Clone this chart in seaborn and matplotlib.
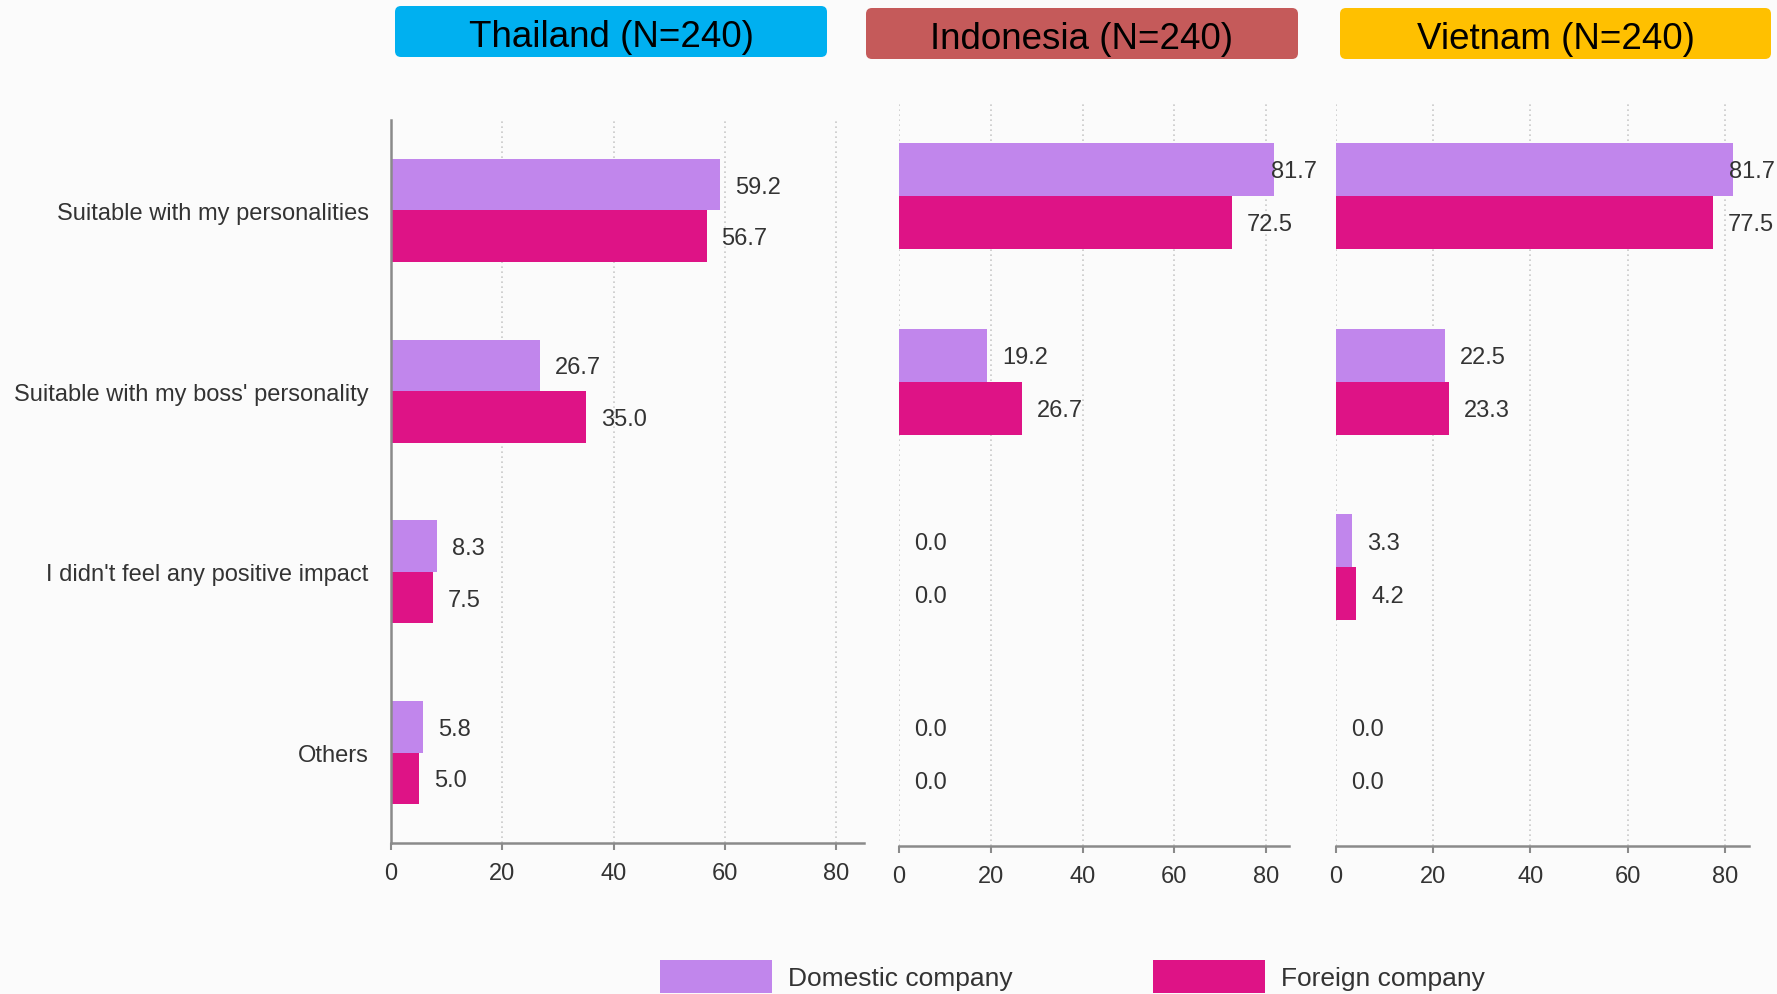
import matplotlib
matplotlib.use("Agg")
import matplotlib.pyplot as plt
from matplotlib.patches import FancyBboxPatch, Patch
import numpy as np
import pandas as pd
import seaborn as sns

# ---- data -------------------------------------------------------------
categories = [
    "Suitable with my personalities",
    "Suitable with my boss' personality",
    "I didn't feel any positive impact",
    "Others",
]
series_names = ["Domestic company", "Foreign company"]

thailand_domestic = [59.2, 26.7, 8.3, 5.8]
thailand_foreign = [56.7, 35.0, 7.5, 5.0]
indonesia_domestic = [81.7, 19.2, 0.0, 0.0]
indonesia_foreign = [72.5, 26.7, 0.0, 0.0]
vietnam_domestic = [81.7, 22.5, 3.3, 0.0]
vietnam_foreign = [77.5, 23.3, 4.2, 0.0]

panel_titles = ["Thailand (N=240)", "Indonesia (N=240)", "Vietnam (N=240)"]
x_ticks = [0, 20, 40, 60, 80]

# ---- style ------------------------------------------------------------
domestic_color = "#C186EC"
foreign_color = "#DE1386"
title_colors = ["#00B0F0", "#C55A5A", "#FFC000"]
text_color = "#333333"
axis_color = "#8a8a8a"
bg_color = "#fbfbfb"

sns.set_theme(style="white")
plt.rcParams["font.family"] = ["Liberation Sans", "DejaVu Sans"]

W, H = 1777, 995
fig = plt.figure(figsize=(W / 100, H / 100), dpi=100, facecolor=bg_color)


def frac_box(left, top, right, bottom):
    """Pixel box (from top-left) -> figure-fraction [l, b, w, h]."""
    return [left / W, 1 - bottom / H, (right - left) / W, (bottom - top) / H]


axes_boxes = [
    frac_box(391, 121, 864, 844),
    frac_box(899, 104, 1289, 847),
    frac_box(1336, 104, 1749, 847),
]
title_boxes = [  # left, top, right, bottom in pixels
    (395, 7, 827, 58),
    (866, 9, 1298, 60),
    (1340, 9, 1771, 60),
]

panels = [
    (thailand_domestic, thailand_foreign),
    (indonesia_domestic, indonesia_foreign),
    (vietnam_domestic, vietnam_foreign),
]

for i, ((dom, forn), box) in enumerate(zip(panels, axes_boxes)):
    ax = fig.add_axes(box)
    ax.set_facecolor("none")
    df = pd.DataFrame({
        "category": categories * 2,
        "value": dom + forn,
        "company": [series_names[0]] * len(categories) + [series_names[1]] * len(categories),
    })
    sns.barplot(
        data=df, y="category", x="value", hue="company", orient="h",
        order=categories, hue_order=series_names,
        palette=[domestic_color, foreign_color],
        width=0.57, linewidth=0, saturation=1, legend=False, ax=ax,
        errorbar=None,
    )
    ax.set_xlim(0, 85)
    ax.set_ylim(3.5, -0.5)
    ax.set_xticks(x_ticks)
    ax.set_xlabel("")
    ax.set_ylabel("")
    ax.set_axisbelow(True)
    ax.xaxis.grid(True, linestyle=(0, (1, 2)), color="#c9c9c9", linewidth=1.2)
    ax.yaxis.grid(False)

    for side in ("top", "right"):
        ax.spines[side].set_visible(False)
    ax.spines["bottom"].set_color(axis_color)
    ax.spines["bottom"].set_linewidth(1.8)
    if i == 0:
        ax.spines["left"].set_color(axis_color)
        ax.spines["left"].set_linewidth(1.8)
        ax.tick_params(axis="y", length=0, pad=16, labelsize=17, labelcolor=text_color)
    else:
        ax.spines["left"].set_visible(False)
        ax.tick_params(axis="y", length=0, labelleft=False)
    ax.tick_params(axis="x", direction="out", length=5, width=1.5, color=axis_color,
                   pad=9, labelsize=17, labelcolor=text_color, bottom=True)

    # value labels next to each bar
    for container, values in zip(ax.containers, (dom, forn)):
        for patch, v in zip(container.patches, values):
            yc = patch.get_y() + patch.get_height() / 2
            anchor = min(v, 77.8)
            ax.annotate(f"{v:.1f}", (anchor, yc), xytext=(10.8, -1.5),
                        textcoords="offset points", ha="left", va="center",
                        fontsize=17, color=text_color, annotation_clip=False)

# ---- panel headers ----------------------------------------------------
for (l, t, r, b), title, col in zip(title_boxes, panel_titles, title_colors):
    x0, x1 = l / 100, r / 100
    y0, y1 = (H - b) / 100, (H - t) / 100
    patch = FancyBboxPatch((x0, y0), x1 - x0, y1 - y0,
                           boxstyle="round,pad=0,rounding_size=0.06",
                           transform=fig.dpi_scale_trans, facecolor=col,
                           edgecolor="none")
    fig.patches.append(patch)
    fig.text((x0 + x1) / 2, (y0 + y1) / 2 - 0.055, title, transform=fig.dpi_scale_trans,
             ha="center", va="center", fontsize=26.5, color="black")

# ---- legend -----------------------------------------------------------
handles = [Patch(facecolor=domestic_color, edgecolor="none", label=series_names[0]),
           Patch(facecolor=foreign_color, edgecolor="none", label=series_names[1])]
fig.legend(handles=handles, loc="center", bbox_to_anchor=(0.6035, 0.018), ncol=2,
           frameon=False, fontsize=19, handlelength=4.25, handleheight=1.55,
           handletextpad=0.6, columnspacing=5.3, labelcolor=text_color)

fig.savefig("out.png", dpi=100, facecolor=bg_color)
